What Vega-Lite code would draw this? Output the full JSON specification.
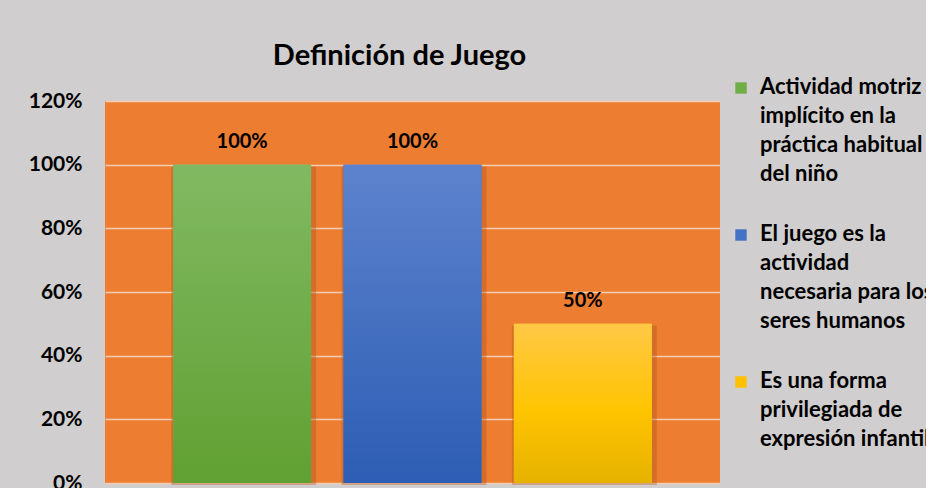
{
  "$schema": "https://vega.github.io/schema/vega-lite/v6.json",
  "autosize": {"type": "none"},
  "width": 615,
  "height": 382,
  "padding": {"left": 105, "top": 101, "right": 206, "bottom": 5},
  "background": "#d0cece",
  "config": {
    "view": {"fill": "#ed7d31", "stroke": null},
    "font": "Lato"
  },
  "title": {
    "text": "Definición de Juego",
    "font": "Lato",
    "fontSize": 29,
    "fontWeight": "bold",
    "color": "#000000",
    "anchor": "middle",
    "frame": "group",
    "dx": -13,
    "dy": 43,
    "baseline": "alphabetic",
    "offset": 26
  },
  "data": {
    "values": [
      {"categoria": "Actividad  motriz implícito en la práctica habitual del niño", "valor": 1.0},
      {"categoria": "El juego es la actividad necesaria para los seres humanos", "valor": 1.0},
      {"categoria": "Es una forma privilegiada de expresión infantil", "valor": 0.5}
    ]
  },
  "encoding": {
    "x": {
      "field": "categoria",
      "type": "nominal",
      "sort": null,
      "axis": null,
      "scale": {"paddingInner": 0.19, "paddingOuter": 0.4}
    },
    "y": {
      "field": "valor",
      "type": "quantitative",
      "scale": {"domain": [0, 1.2], "nice": false},
      "axis": {
        "title": null,
        "values": [0, 0.2, 0.4, 0.6, 0.8, 1.0, 1.2],
        "format": ".0%",
        "labelFont": "Lato",
        "labelFontSize": 21,
        "labelFontWeight": "bold",
        "labelColor": "#000000",
        "labelPadding": 23,
        "ticks": false,
        "domain": false,
        "grid": true,
        "gridColor": "#f2cdb4",
        "gridWidth": 1.5
      }
    }
  },
  "layer": [
    {
      "mark": {"type": "bar", "color": "#a9501b", "opacity": 0.35, "xOffset": 1.5, "yOffset": 2, "width": {"band": 1.05}}
    },
    {
      "mark": {"type": "bar"},
      "encoding": {
        "color": {
          "field": "categoria",
          "type": "nominal",
          "sort": null,
          "scale": {"range": ["#70ad47", "#4472c4", "#ffc000"]},
          "legend": {
            "title": null,
            "orient": "none",
            "legendX": 625,
            "legendY": -24,
            "symbolType": "square",
            "symbolSize": 130,
            "symbolStrokeWidth": 0,
            "labelFont": "Lato",
            "labelFontSize": 22,
            "labelFontWeight": "bold",
            "labelColor": "#000000",
            "labelLimit": 0,
            "labelOffset": 8,
            "labelBaseline": "top",
            "rowPadding": 38,
            "labelExpr": "datum.label == 'Actividad  motriz implícito en la práctica habitual del niño' ? ['Actividad  motriz', 'implícito en la', 'práctica habitual', 'del niño'] : datum.label == 'El juego es la actividad necesaria para los seres humanos' ? ['El juego es la', 'actividad', 'necesaria para los', 'seres humanos'] : ['Es una forma', 'privilegiada de', 'expresión infantil']",
            "encode": {"labels": {"update": {"lineHeight": {"value": 29}, "dy": {"value": -11}}}}
          }
        }
      }
    },
    {
      "transform": [{"filter": "datum.categoria == 'Actividad  motriz implícito en la práctica habitual del niño'"}],
      "mark": {"type": "bar", "color": {"gradient": "linear", "x1": 0, "y1": 0, "x2": 0, "y2": 1, "stops": [{"offset": 0, "color": "#81b962"}, {"offset": 1, "color": "#61a032"}]}}
    },
    {
      "transform": [{"filter": "datum.categoria == 'El juego es la actividad necesaria para los seres humanos'"}],
      "mark": {"type": "bar", "color": {"gradient": "linear", "x1": 0, "y1": 0, "x2": 0, "y2": 1, "stops": [{"offset": 0, "color": "#5d83cd"}, {"offset": 1, "color": "#2d5db4"}]}}
    },
    {
      "transform": [{"filter": "datum.categoria == 'Es una forma privilegiada de expresión infantil'"}],
      "mark": {"type": "bar", "color": {"gradient": "linear", "x1": 0, "y1": 0, "x2": 0, "y2": 1, "stops": [{"offset": 0, "color": "#ffc846"}, {"offset": 0.55, "color": "#ffc400"}, {"offset": 1, "color": "#e5b200"}]}}
    },
    {
      "mark": {"type": "text", "font": "Lato", "fontSize": 20, "fontWeight": "bold", "color": "#000000", "baseline": "alphabetic", "dy": -17},
      "encoding": {"text": {"field": "valor", "type": "quantitative", "format": ".0%"}}
    }
  ]
}
